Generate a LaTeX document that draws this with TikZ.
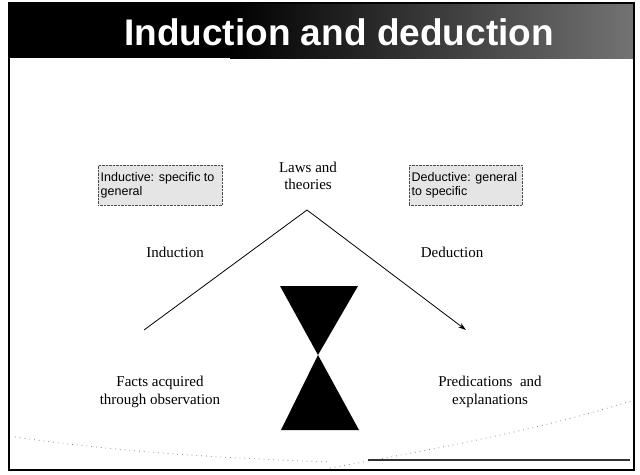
\documentclass[tikz,border=0pt]{standalone}
\usepackage{fontspec}
\setmainfont{Liberation Serif}
\setsansfont{Liberation Sans}
\usetikzlibrary{arrows.meta}

\tikzset{
  notebox/.style={draw=black!70,densely dotted,fill=black!10,font=\sffamily\fontsize{12.5}{14}\selectfont,
    align=flush left,text width=#1,inner sep=2.5pt,minimum height=40pt},
  serif/.style={font=\fontsize{15}{17.5}\selectfont,align=center}
}

\begin{document}
\begin{tikzpicture}[x=1pt,y=-1pt]
\useasboundingbox (0,0) rectangle (640,474);
\fill[white] (0,0) rectangle (640,474);

% slide frame and title bar
\fill[black] (9,3) rectangle (634,58);
\shade[left color=black,right color=black!55] (230,3) rectangle (634,58);
\draw[line width=2pt] (9,3) rectangle (634,470);
\node(title) at (339,45)[anchor=base,font=\sffamily\bfseries\fontsize{37}{40}\selectfont,text=white] {Induction and deduction};

% faint swoosh of the slide background
\draw[black!45,loosely dotted,line width=0.8pt] (15,437) .. controls (120,452) and (220,458) .. (330,462);
\draw[black!45,loosely dotted,line width=0.8pt] (330,468) .. controls (430,450) and (540,430) .. (634,400);

% footer line
\draw[line width=2pt,black!80] (368,460) -- (630,460);

% the two boxes
\node(inbox) at (98,165)[notebox=119pt,anchor=north west] {Inductive: specific to\\general};
\node(debox) at (409,165)[notebox=108pt,anchor=north west] {Deductive: general\\to specific};

% labels
\node(laws) at (308,176)[serif] {Laws and\\theories};
\node(ind) at (175,252)[serif] {Induction};
\node(ded) at (452,252)[serif] {Deduction};
\node(facts) at (160,392)[serif] {Facts acquired\\through observation};
\node(pred) at (490,392)[serif] {Predications~ and\\explanations};

\coordinate(apex) at (307,210);
\coordinate(lend) at (144,330);
\coordinate(rend) at (466,330);
\path [-]
  (lend)   edge [line width=0.8pt]                    (apex)
  (apex)   edge [line width=0.8pt,-{Stealth[length=8pt,width=5pt]}] (rend);

% hourglass
\fill[black] (280,286) -- (358,286) -- (318,355) -- cycle;
\fill[black] (318,355) -- (281,430) -- (359,430) -- cycle;
\end{tikzpicture}
\end{document}
